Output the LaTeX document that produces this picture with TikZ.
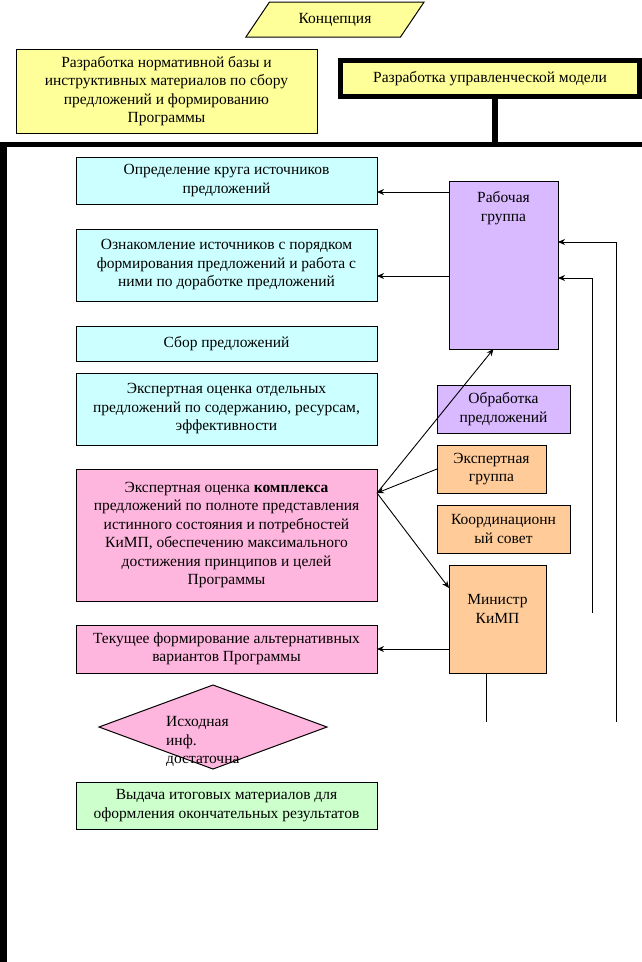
\documentclass[tikz,border=0pt]{standalone}
\usepackage{fontspec}
\setmainfont{Liberation Serif}
\usetikzlibrary{shapes.geometric,arrows.meta}

\definecolor{paleyellow}{RGB}{255,255,153}
\definecolor{palecyan}{RGB}{204,255,255}
\definecolor{palepink}{RGB}{255,182,222}
\definecolor{palegreen}{RGB}{204,255,204}
\definecolor{paleviolet}{RGB}{217,185,255}
\definecolor{paleorange}{RGB}{255,204,153}

\begin{document}
\begin{tikzpicture}[
    x = 1pt,
    y = -1pt,
    >={Stealth[length=7pt,width=6pt]},
    box/.style = {rectangle, draw=black, line width=1pt, align=center,
              inner sep=0pt, outer sep=0pt,
              font=\fontsize{15.5}{18.5}\selectfont},
    stage/.style = {box, minimum width=301pt},
    flow/.style = {black, line width=0.9pt},
    heavy/.style = {black, line width=5.5pt},
    ]

\useasboundingbox (0,0) rectangle (642,962);

% top
\node[box, trapezium, trapezium left angle=45, trapezium right angle=135,
      trapezium stretches=true, minimum width=180pt, minimum height=35pt,
      fill=paleyellow] (concept) at (335,19.5) {Концепция};
\node[box, fill=paleyellow, minimum width=301pt, minimum height=84pt] (norm) at (166.5,91)
    {Разработка нормативной базы и\\инструктивных материалов по сбору\\предложений и формированию\\Программы};
\node[box, fill=paleyellow, line width=5pt, minimum width=299pt, minimum height=36pt] (model) at (490,78.5)
    {Разработка управленческой модели};

\coordinate (bus_l) at (0,144.5);
\coordinate (bus_r) at (642,144.5);
\coordinate (stem) at (495,144.5);
\draw [heavy] (bus_l) -- (bus_r);
\draw [heavy] (stem |- model.south) -- (stem);
\draw [heavy, line width=6.5pt] (3.25,142) -- (3.25,962);

% left column
\node[stage, fill=palecyan, minimum height=47pt] (c1) at (226.5,180.5)
    {Определение круга источников\\предложений};
\node[stage, fill=palecyan, minimum height=72pt] (c2) at (226.5,265)
    {Ознакомление источников с порядком\\формирования предложений и работа с\\ними по доработке предложений};
\node[stage, fill=palecyan, minimum height=35pt] (c3) at (226.5,343.5)
    {Сбор предложений};
\node[stage, fill=palecyan, minimum height=72pt] (c4) at (226.5,409)
    {Экспертная оценка отдельных\\предложений по содержанию, ресурсам,\\эффективности};
\node[stage, fill=palepink, minimum height=132pt] (p1) at (226.5,535)
    {Экспертная оценка \textbf{комплекса}\\предложений по полноте представления\\истинного состояния и потребностей\\КиМП, обеспечению максимального\\достижения принципов и целей\\Программы};
\node[stage, fill=palepink, minimum height=48pt] (p2) at (226.5,649)
    {Текущее формирование альтернативных\\вариантов Программы};
\node[box, diamond, fill=palepink, minimum width=228pt, minimum height=84pt,
      aspect=2.7] (check) at (213,727) {};
\node[align=left, anchor=north west, inner sep=0pt,
      font=\fontsize{15.5}{18.5}\selectfont] (check_txt) at (166,716.5)
    {Исходная\\инф.\\достаточна};
\node[stage, fill=palegreen, minimum height=47pt] (out) at (226.5,805.5)
    {Выдача итоговых материалов для\\оформления окончательных результатов};

% right column
\node[box, fill=paleviolet, minimum width=109pt, minimum height=168pt,
      label={[anchor=north, align=center, yshift=-7pt,
              font=\fontsize{15.5}{18.5}\selectfont]north:Рабочая\\группа}] (work) at (503.5,265) {};
\node[box, fill=paleviolet, minimum width=133pt, minimum height=48pt] (proc) at (503.5,409)
    {Обработка\\предложений};
\node[box, fill=paleorange, minimum width=109pt, minimum height=48pt] (expert) at (491.5,469)
    {Экспертная\\группа};
\node[box, fill=paleorange, minimum width=133pt, minimum height=48pt] (coord) at (503.5,529)
    {Координационн\\ый совет};
\node[box, fill=paleorange, minimum width=97pt, minimum height=108pt,
      label={[anchor=north, align=center, yshift=-26pt,
              font=\fontsize{15.5}{18.5}\selectfont]north:Министр\\КиМП}] (minister) at (497.5,619) {};

% connectors
\coordinate (c1_in) at ([yshift=-11.5pt]c1.east);
\coordinate (c2_in) at ([yshift=-11pt]c2.east);
\coordinate (work_in1) at ([yshift=23pt]work.east);
\coordinate (work_in2) at ([yshift=-13pt]work.east);
\coordinate (work_in3) at ([xshift=-10pt]work.south);
\coordinate (p1_out) at ([yshift=42pt]p1.east);
\coordinate (min_in) at ([yshift=31pt]minister.west);
\coordinate (min_out) at ([xshift=-11.5pt]minister.south);
\coordinate (loop_1) at (616,722);
\coordinate (loop_2) at (592,613);
\coordinate (loop_3) at (486,722);

\draw [->, flow] (c1_in -| work.west) -- (c1_in);
\draw [->, flow] (c2_in -| work.west) -- (c2_in);
\draw [->, flow] (loop_1) |- (work_in1);
\draw [->, flow] (loop_2) |- (work_in2);
\draw [->, flow] (p1_out) -- (work_in3);
\draw [->, flow] (expert.west) -- (p1_out);
\draw [->, flow] (p1_out) -- (min_in);
\draw [->, flow] (p2.east -| minister.west) -- (p2.east);
\draw [flow] (min_out) -- (loop_3);

\end{tikzpicture}
\end{document}
